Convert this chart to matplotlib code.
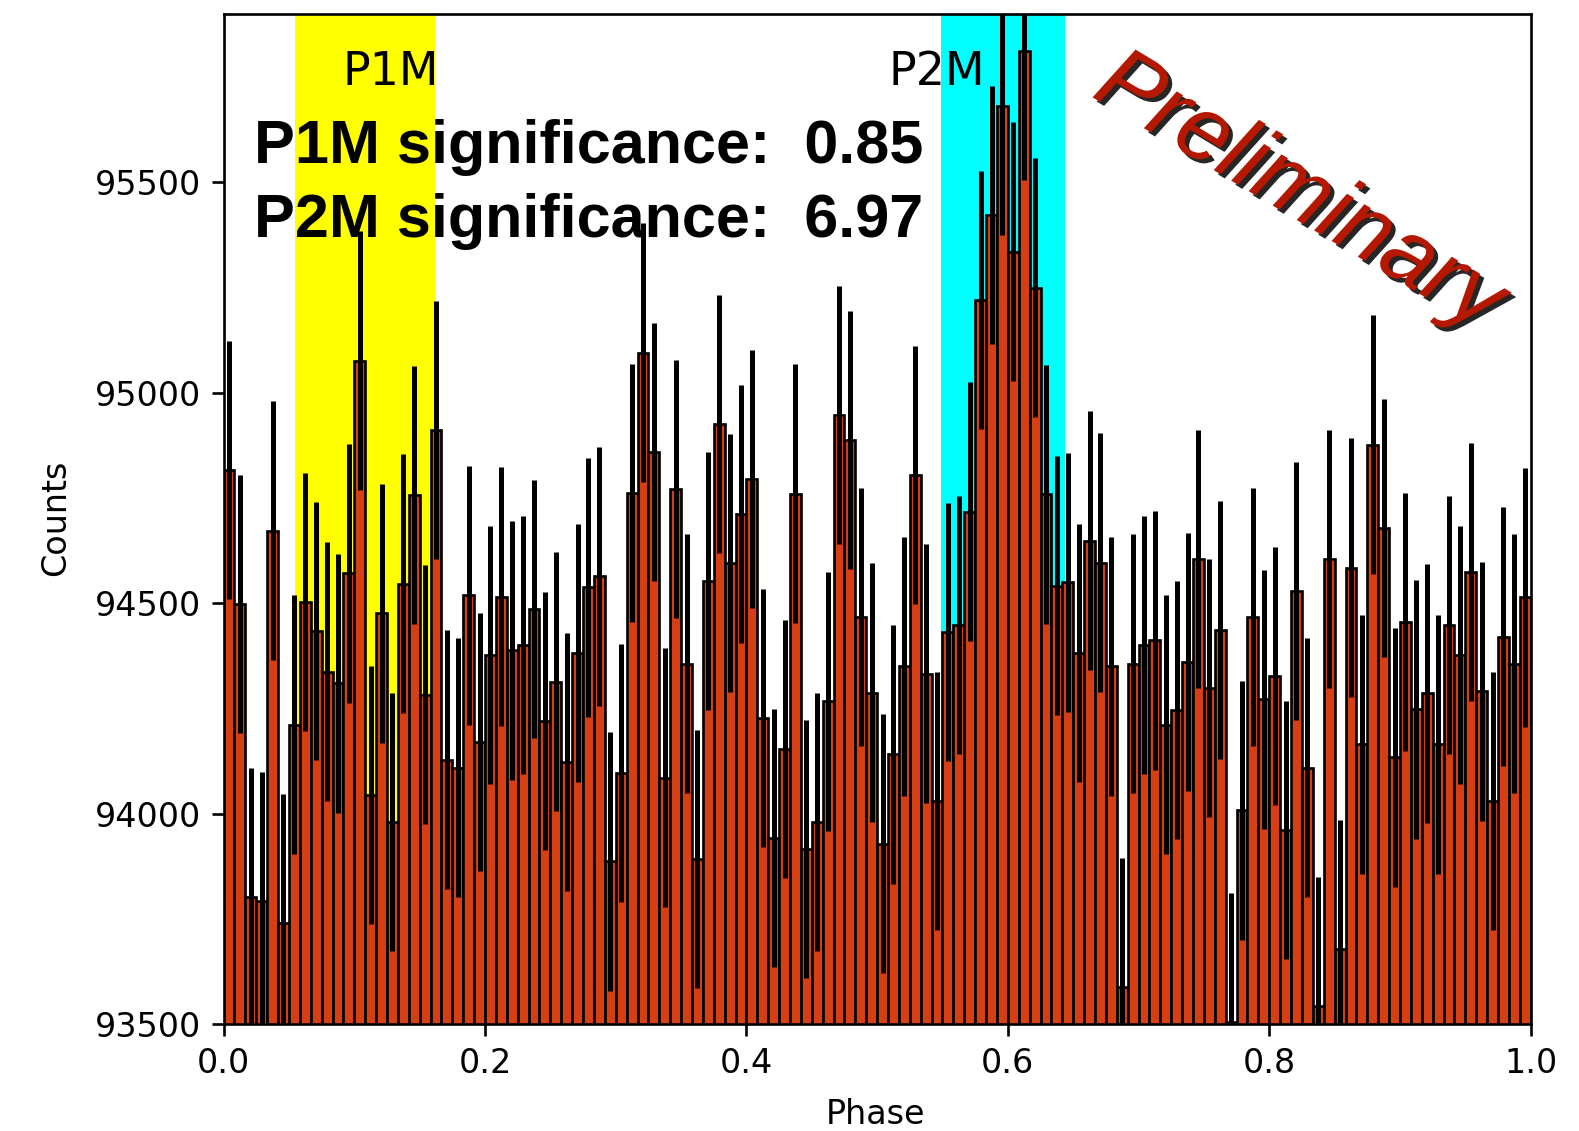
import numpy as np
import matplotlib
matplotlib.use("Agg")
import matplotlib.pyplot as plt
import matplotlib.patheffects as pe

# ---- data ----
counts = [
    94817, 94498, 93803, 93792, 94673, 93740, 94212, 94503, 94435, 94338,
    94310, 94571, 95077, 94044, 94476, 93981, 94547, 94758, 94283, 94912,
    94129, 94110, 94519, 94170, 94377, 94516, 94388, 94401, 94487, 94220,
    94314, 94123, 94382, 94538, 94564, 93887, 94097, 94762, 95096, 94860,
    94086, 94772, 94357, 93893, 94553, 94926, 94596, 94712, 94795, 94228,
    93942, 94154, 94761, 93917, 93981, 94267, 94948, 94888, 94467, 94288,
    93929, 94141, 94350, 94805, 94333, 94031, 94432, 94448, 94718, 95221,
    95423, 95682, 95336, 95813, 95250, 94759, 94542, 94550, 94382, 94649,
    94597, 94350, 93588, 94357, 94401, 94412, 94212, 94247, 94361, 94605,
    94299, 94437, 93505, 94008, 94467, 94272, 94327, 93961, 94530, 94110,
    93544, 94605, 93678, 94585, 94165, 94877, 94679, 94134, 94456, 94248,
    94286, 94165, 94448, 94377, 94574, 94291, 94031, 94421, 94357, 94514,
]
count_error = 307          # Poisson error (~sqrt(N))
p1m_range = [0.055, 0.162]
p2m_range = [0.549, 0.6435]
region_labels = ["P1M", "P2M"]
significance_lines = ["P1M significance:  0.85", "P2M significance:  6.97"]
xticks = [0.0, 0.2, 0.4, 0.6, 0.8, 1.0]
yticks = [93500, 94000, 94500, 95000, 95500]

n_bins = len(counts)
width = 1.0 / n_bins
centers = (np.arange(n_bins) + 0.5) * width

fig = plt.figure(figsize=(15.79, 11.31), dpi=100)
ax = fig.add_axes([0.1416, 0.0944, 0.8278, 0.8931])

ax.axvspan(*p1m_range, color="#FFFF00", zorder=0, lw=0)
ax.axvspan(*p2m_range, color="#00FFFF", zorder=0, lw=0)

ax.bar(centers, counts, width=width, color="#D63E14", edgecolor="black",
       linewidth=1.9, zorder=2)
ax.errorbar(centers, counts, yerr=count_error, fmt="none", ecolor="black",
            elinewidth=3.6, capsize=0, zorder=3)

ax.set_xlim(0, 1)
ax.set_ylim(93500, 95900)
ax.set_xticks(xticks)
ax.set_xticklabels([f"{t:.1f}" for t in xticks])
ax.set_yticks(yticks)
ax.set_yticklabels([str(t) for t in yticks])
ax.tick_params(labelsize=24, length=8.3, width=1.9, pad=8)
for s in ax.spines.values():
    s.set_linewidth(1.9)

ax.set_xlabel("Phase", fontsize=24)
ax.set_ylabel("Counts", fontsize=24)
ax.xaxis.set_label_coords(0.499, -0.073)
ax.yaxis.set_label_coords(-0.116, 0.501)

ax.text(0.0906, 95732, region_labels[0], fontsize=33, ha="left", va="baseline", zorder=4)
ax.text(0.509, 95732, region_labels[1], fontsize=33, ha="left", va="baseline", zorder=4)

fig.text(0.1609, 0.8559, significance_lines[0], fontsize=44, fontweight="bold",
         family="Liberation Sans", ha="left", va="baseline", zorder=5)
fig.text(0.1609, 0.7905, significance_lines[1], fontsize=44, fontweight="bold",
         family="Liberation Sans", ha="left", va="baseline", zorder=5)

fig.text(0.8227, 0.8290, "Preliminary", fontsize=66, style="italic",
         family="Liberation Sans", color="#B41800", rotation=-31,
         ha="center", va="center", rotation_mode="anchor", zorder=6,
         path_effects=[pe.SimplePatchShadow(offset=(3, -3), shadow_rgbFace="black", alpha=0.85),
                       pe.Normal()])

fig.savefig("out.png", dpi=100)
